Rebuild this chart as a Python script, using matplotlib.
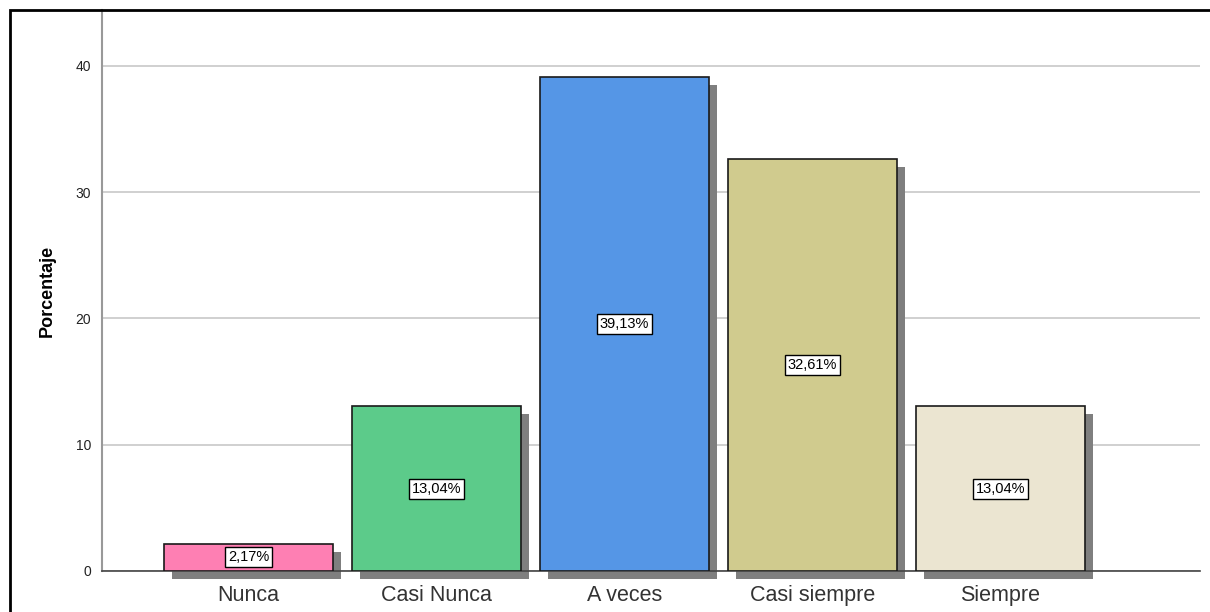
import matplotlib.pyplot as plt
import matplotlib.patches as patches
import numpy as np

plt.rcParams["font.family"] = ["Liberation Sans", "DejaVu Sans"]

categories = ["Nunca", "Casi Nunca", "A veces", "Casi siempre", "Siempre"]
percentages = [2.17, 13.04, 39.13, 32.61, 13.04]
bar_colors = ["#fe7fb3", "#5ccb8a", "#5596e6", "#d0cb8e", "#ebe5d1"]
yticks = [0, 10, 20, 30, 40]


def main():
    fig = plt.figure(figsize=(12.1, 6.12), dpi=100)
    fig.patch.set_facecolor("white")

    # outer frame (SPSS style)
    frame = patches.Rectangle((10 / 1210, -0.1), 1.2, 1.1 - 10 / 612,
                              transform=fig.transFigure, fill=False,
                              edgecolor="black", linewidth=2, zorder=0)
    fig.patches.append(frame)

    ax = fig.add_axes([102 / 1210, 1 - 571 / 612, (1200 - 102) / 1210, (571 - 10) / 612])
    ax.set_facecolor("none")

    x = np.arange(len(categories))
    width = 0.9
    ax.set_xlim(-0.779, 5.061)
    ax.set_ylim(0, 44.43)

    # shadows
    dx = 8 / 188
    dy = 8 / 12.625
    for xi, v in zip(x, percentages):
        ax.add_patch(patches.Rectangle((xi - width / 2 + dx, -dy), width, v,
                                       facecolor="#7f7f7f", edgecolor="none",
                                       zorder=2, clip_on=False))
    ax.bar(x, percentages, width=width, color=bar_colors, edgecolor="#1a1a1a",
           linewidth=1.2, zorder=3)

    for xi, v in zip(x, percentages):
        label = f"{v:.2f}".replace(".", ",") + "%"
        ax.text(xi, v / 2, label, ha="center", va="center", fontsize=10.5,
                color="black", zorder=5,
                bbox=dict(boxstyle="square,pad=0.2", facecolor="white",
                          edgecolor="black", linewidth=1))

    ax.set_yticks(yticks)
    ax.set_yticklabels([str(t) for t in yticks], fontsize=10, color="#222222")
    ax.yaxis.grid(True, color="#c8c8c8", linewidth=1.2, zorder=0)
    ax.set_axisbelow(True)
    ax.tick_params(axis="y", length=0, pad=8)
    ax.tick_params(axis="x", length=0, pad=10)
    ax.set_xticks(x)
    ax.set_xticklabels(categories, fontsize=15.5, color="#333333")

    for side in ["top", "right"]:
        ax.spines[side].set_visible(False)
    ax.spines["left"].set_color("#999999")
    ax.spines["left"].set_linewidth(1.5)
    ax.spines["bottom"].set_color("#444444")
    ax.spines["bottom"].set_linewidth(1.2)

    ax.set_ylabel("Porcentaje", fontsize=13, fontweight="bold", labelpad=14)

    fig.savefig("out.png", dpi=100)


if __name__ == "__main__":
    main()
